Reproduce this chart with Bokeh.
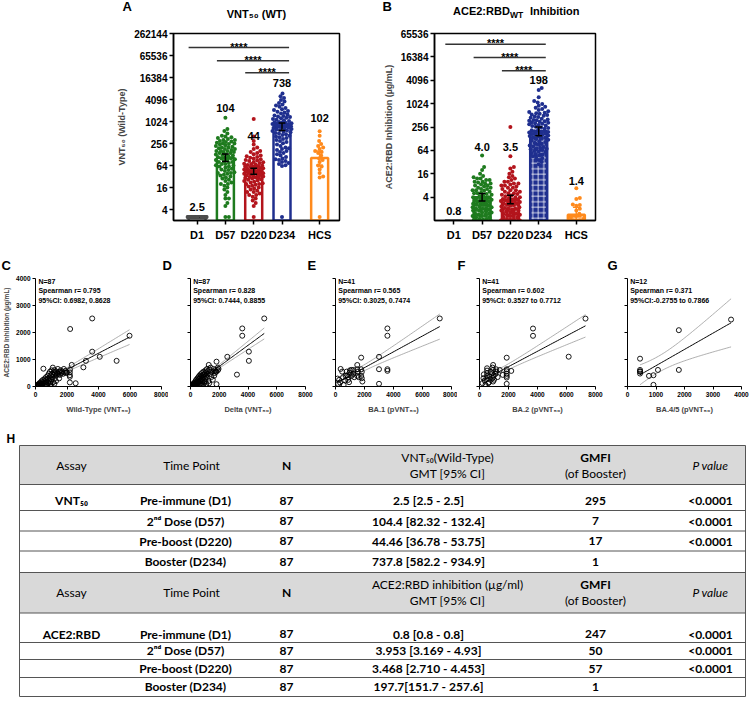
import math
import numpy as np
from bokeh.plotting import figure
from bokeh.models import Range1d, FixedTicker, Label, PrintfTickFormatter, CustomLabelingPolicy
from bokeh.layouts import column, row
from bokeh.embed import file_html
from bokeh.resources import INLINE
from bokeh.core.properties import value

FONT = "Liberation Sans, DejaVu Sans, sans-serif"
TFONT = "Lato, DejaVu Sans, sans-serif"

# ------------------------------------------------------------------ data
groups = ["D1", "D57", "D220", "D234", "HCS"]
group_pos = [1, 2, 3, 4, 5.33]
group_colors = ["#4d4d4d", "#1e7b1e", "#b3141c", "#1f2f8f", "#ff8a1c"]

# Panel A : VNT50 (WT)
vnt_gmt = [2.5, 104.4, 44.46, 737.8, 102]
vnt_gmt_text = ["2.5", "104", "44", "738", "102"]
vnt_ci_lo = [2.5, 82.32, 36.78, 582.2, 65]
vnt_ci_hi = [2.5, 132.4, 53.75, 934.9, 160]
vnt_D1 = [2.5] * 87  # all pre-immune values at the LOD (GMT 2.5 [2.5-2.5])
vnt_D57 = [1300, 640, 560, 480, 420, 400, 380, 360, 340, 320, 320, 300, 290, 280, 270, 260, 256, 250,
           240, 230, 220, 210, 200, 200, 190, 180, 180, 170, 160, 160, 160, 150, 150, 140, 140, 130,
           128, 125, 120, 115, 110, 105, 100, 100, 95, 90, 90, 85, 80, 80, 75, 70, 70, 65, 64, 60, 60,
           56, 52, 50, 48, 45, 42, 40, 40, 38, 36, 34, 32, 30, 28, 26, 24, 22, 20, 20, 18, 16, 14, 12,
           10, 8, 8, 6, 5, 2.5, 2.5]
vnt_D220 = [1200, 400, 300, 240, 200, 180, 160, 150, 140, 130, 120, 115, 110, 105, 100, 95, 90, 88, 85,
            80, 78, 75, 72, 70, 68, 66, 64, 62, 60, 60, 58, 56, 55, 54, 52, 50, 50, 48, 47, 46, 45, 44,
            43, 42, 41, 40, 40, 39, 38, 37, 36, 35, 34, 33, 32, 31, 30, 30, 29, 28, 27, 26, 25, 24, 23,
            22, 21, 20, 20, 19, 18, 17, 16, 15, 14, 13, 12, 12, 11, 10, 10, 9, 8, 7, 6, 5, 2.5]
vnt_D234 = [6000, 5000, 4500, 4000, 3600, 3300, 3000, 2800, 2600, 2400, 2200, 2100, 2000, 1900, 1800,
            1700, 1600, 1500, 1450, 1400, 1350, 1300, 1250, 1200, 1150, 1100, 1050, 1000, 980, 960,
            940, 920, 900, 880, 860, 840, 820, 800, 780, 760, 740, 720, 700, 680, 660, 640, 620, 600,
            580, 560, 540, 520, 500, 480, 460, 440, 420, 400, 380, 360, 340, 320, 300, 280, 260, 240,
            220, 200, 190, 180, 170, 160, 150, 140, 130, 120, 110, 100, 95, 90, 85, 80, 75, 70, 65, 62,
            2.5]
vnt_HCS = [550, 420, 300, 250, 220, 200, 180, 160, 150, 140, 120, 100, 90, 80, 64, 60, 50, 40, 32, 30, 2.5]

# Panel B : ACE2:RBD inhibition
ace_gmt = [0.8, 3.953, 3.468, 197.7, 1.4]
ace_gmt_text = ["0.8", "4.0", "3.5", "198", "1.4"]
ace_ci_lo = [0.8, 3.169, 2.71, 151.7, 1.0]
ace_ci_hi = [0.8, 4.93, 4.453, 257.6, 2.2]
ace_D1 = [0.8] * 87  # all pre-immune values at 0.8 (GMT 0.8 [0.8-0.8])
ace_D57 = [47, 24, 20, 16, 14, 13, 12, 12, 11, 11, 10, 10, 9.5, 9, 9, 8.5, 8, 8, 7.5, 7, 7, 6.5, 6.5, 6,
           6, 5.8, 5.5, 5.2, 5, 5, 4.8, 4.6, 4.4, 4.2, 4, 4, 3.8, 3.6, 3.5, 3.4, 3.3, 3.2, 3.1, 3, 3,
           2.9, 2.8, 2.7, 2.6, 2.5, 2.4, 2.3, 2.2, 2.2, 2.1, 2, 2, 1.9, 1.8, 1.8, 1.7, 1.6, 1.6, 1.5,
           1.5, 1.4, 1.4, 1.3, 1.3, 1.2, 1.2, 1.1, 1.1, 1.05, 1, 1, 0.95, 0.9, 0.9, 0.85, 0.8, 0.8,
           0.8, 0.8, 0.8, 0.8, 0.8]
ace_D220 = [256, 45, 24, 22, 18, 16, 14, 13, 12, 11, 10, 10, 9, 9, 8.5, 8, 8, 7.5, 7, 7, 6.5, 6, 6, 5.5,
            5.5, 5, 5, 4.8, 4.6, 4.4, 4.2, 4, 4, 3.8, 3.6, 3.5, 3.4, 3.3, 3.2, 3.1, 3, 3, 2.9, 2.8, 2.7,
            2.6, 2.5, 2.4, 2.3, 2.2, 2.1, 2, 2, 1.9, 1.8, 1.8, 1.7, 1.6, 1.6, 1.5, 1.5, 1.4, 1.4, 1.3,
            1.3, 1.2, 1.2, 1.1, 1.1, 1.05, 1, 1, 0.95, 0.9, 0.9, 0.85, 0.8, 0.8, 0.8, 0.8, 0.8, 0.8,
            0.8, 0.8, 0.8, 0.8, 0.8]
ace_D234 = [2600, 2300, 1500, 1200, 1100, 1000, 900, 850, 800, 750, 700, 650, 620, 600, 580, 560, 540,
            520, 500, 480, 460, 440, 420, 400, 390, 380, 370, 360, 350, 340, 330, 320, 310, 300, 290,
            280, 270, 260, 250, 240, 230, 220, 210, 200, 195, 190, 185, 180, 175, 170, 165, 160, 155,
            150, 145, 140, 135, 130, 125, 120, 115, 110, 105, 100, 95, 90, 85, 80, 78, 75, 72, 70, 68,
            65, 62, 60, 58, 55, 52, 50, 48, 45, 42, 40, 36, 32, 28]
ace_HCS = [6.8, 3.8, 3.6, 2.6, 2.5, 2.4, 2.0, 1.8, 1.5, 1.3, 1.2, 1.1, 1.0, 1.0, 1.0, 0.9, 0.9, 0.8, 0.8,
           0.8, 0.8]

# Panels C-G : correlations (x = neutralisation titre, y = ACE2:RBD inhibition)
C_x = [3600, 2200, 5970, 3600, 4080, 5150, 3200, 3040, 2300, 2190, 2550, 2180, 2180, 2180, 2180,
       50, 80, 100, 120, 150, 180, 200, 220, 250, 260, 300, 320, 350, 380, 400, 420, 450, 480, 500,
       520, 550, 580, 600, 620, 650, 680, 700, 720, 750, 780, 800, 820, 850, 870, 900, 920, 950, 980,
       1000, 1020, 1050, 1080, 1100, 1120, 1150, 1180, 1200, 1230, 1260, 1300, 1340, 1380, 1420,
       1460, 1500, 1550, 1600, 1650, 1700, 1750, 1800, 1850, 1900, 1950, 2000, 1000, 950, 700, 400,
       1200, 1500, 1300]
C_y = [2520, 2130, 1880, 1290, 1100, 950, 950, 710, 800, 620, 120, 150, 420, 520, 360,
       10, 20, 40, 10, 60, 30, 90, 50, 120, 20, 80, 150, 40, 200, 100, 60, 170, 250, 660, 120, 30,
       210, 300, 80, 150, 350, 250, 180, 60, 400, 290, 130, 480, 220, 330, 550, 90, 410, 270, 600,
       470, 350, 700, 160, 520, 420, 610, 300, 480, 560, 420, 500, 650, 470, 540, 430, 600, 500,
       550, 470, 650, 520, 580, 500, 520, 30, 150, 20, 10, 100, 300, 200]
D_x = [5130, 3600, 3600, 2560, 4060, 4060, 3230, 1810, 1810, 1270, 1900, 1900, 1950, 1800, 1700,
       20, 40, 60, 80, 100, 120, 150, 170, 200, 220, 250, 270, 300, 320, 350, 370, 400, 420, 450, 480,
       500, 520, 550, 570, 600, 620, 650, 680, 700, 720, 750, 780, 800, 820, 850, 870, 900, 920, 950,
       980, 1000, 1020, 1050, 1080, 1100, 1120, 1150, 1180, 1200, 1250, 1300, 1350, 1400, 1450, 1500,
       1550, 1600, 1650, 1700, 1750, 300, 500, 700, 900, 1100, 1300, 150, 250, 400, 600, 800, 1000]
D_y = [2520, 2150, 1880, 1100, 1290, 950, 440, 920, 86, 800, 700, 600, 650, 550, 500,
       10, 20, 5, 30, 50, 20, 80, 40, 100, 60, 130, 30, 150, 90, 200, 110, 250, 60, 180, 300, 120, 220,
       350, 150, 280, 400, 200, 330, 450, 100, 380, 250, 500, 180, 420, 300, 550, 350, 450, 150, 500,
       280, 600, 400, 520, 330, 650, 450, 560, 200, 620, 450, 700, 350, 550, 250, 650, 400, 600, 550,
       20, 30, 50, 80, 100, 120, 10, 15, 40, 70, 90, 200]
E_x = [7190, 3580, 3580, 3000, 1770, 3580, 3580, 3000, 3000, 354, 458, 520, 146, 250, 312, 562, 187,
       770, 812, 875, 875, 937, 979, 1104, 1104, 1229, 1229, 1500, 1500, 1541, 1500, 1604, 1771,
       1812, 1771, 1812, 1854, 1291, 666, 1000, 700]
E_y = [2520, 2150, 1880, 1100, 1070, 640, 580, 640, 100, 650, 552, 344, 294, 245, 147, 61, 98,
       552, 417, 344, 245, 160, 515, 613, 393, 466, 613, 797, 638, 540, 393, 344, 638, 540, 393,
       307, 184, 344, 220, 600, 400]
F_x = [7310, 3690, 3690, 6150, 1875, 2190, 1875, 1875, 1875, 1875, 1875, 1875, 937, 937, 896, 979,
       896, 937, 1146, 1146, 1104, 521, 521, 521, 521, 521, 604, 271, 354, 208, 416, 687, 771, 1396,
       1604, 771, 1000, 1250, 300, 650, 900]
F_y = [2515, 2147, 1877, 1104, 1067, 577, 638, 564, 466, 393, 331, 98, 797, 613, 491, 393, 307, 184,
       638, 552, 466, 675, 589, 491, 393, 270, 123, 307, 220, 123, 61, 368, 540, 613, 430, 245, 250,
       350, 450, 150, 700]
G_x = [3634, 1801, 1801, 440, 440, 440, 440, 754, 911, 911, 1068, 440]
G_y = [2479, 2086, 613, 1031, 613, 552, 479, 393, 417, 61, 613, 560]

scatter_letters = ["C", "D", "E", "F", "G"]
scatter_specs = [
    ("Wild-Type (VNT₅₀)", C_x, C_y, 8000, ["N=87", "Spearman r= 0.795", "95%CI: 0.6982, 0.8628"]),
    ("Delta (VNT₅₀)", D_x, D_y, 8000, ["N=87", "Spearman r= 0.828", "95%CI: 0.7444, 0.8855"]),
    ("BA.1 (pVNT₅₀)", E_x, E_y, 8000, ["N=41", "Spearman r= 0.565", "95%CI: 0.3025, 0.7474"]),
    ("BA.2 (pVNT₅₀)", F_x, F_y, 8000, ["N=41", "Spearman r= 0.602", "95%CI: 0.3527 to 0.7712"]),
    ("BA.4/5 (pVNT₅₀)", G_x, G_y, 4000, ["N=12", "Spearman r= 0.371", "95%CI:-0.2755 to 0.7866"]),
]

# Table H
tbl_headers = ["Assay", "Time Point", "N", "GMFI", "(of Booster)", "P value"]
tbl_gmt_head_vnt = ["VNT₅₀(Wild-Type)", "GMT [95% CI]"]
tbl_gmt_head_ace = ["ACE2:RBD inhibition (µg/ml)", "GMT [95% CI]"]
tbl_assay = ["VNT₅₀", "ACE2:RBD"]
tbl_timepoints = ["Pre-immune (D1)", "2ⁿᵈ Dose (D57)", "Pre-boost (D220)", "Booster (D234)"]
tbl_n = ["87", "87", "87", "87"]
tbl_vnt_gmt = ["2.5 [2.5 - 2.5]", "104.4 [82.32 - 132.4]", "44.46 [36.78 - 53.75]", "737.8 [582.2 - 934.9]"]
tbl_vnt_gmfi = ["295", "7", "17", "1"]
tbl_vnt_p = ["<0.0001", "<0.0001", "<0.0001"]
tbl_ace_gmt = ["0.8 [0.8 - 0.8]", "3.953 [3.169 - 4.93]", "3.468 [2.710 - 4.453]", "197.7[151.7 - 257.6]"]
tbl_ace_gmfi = ["247", "50", "57", "1"]
tbl_ace_p = ["<0.0001", "<0.0001", "<0.0001"]


# ------------------------------------------------------------------ helpers
def lab(p, x, y, text, size="11px", style="bold", align="center", baseline="middle", angle=0,
        font=FONT, color="black"):
    p.add_layout(Label(x=x, y=y, text=text, text_font=font, text_font_size=size,
                       text_font_style=style, text_align=align, text_baseline=baseline,
                       angle=angle, text_color=color))


def swarm_offsets(vals, ypx, d, maxw):
    order = sorted(range(len(vals)), key=lambda i: vals[i])
    cands = [0.0]
    k = 1
    while k * 0.5 <= maxw:
        cands += [k * 0.5, -k * 0.5]
        k += 1
    placed = []
    offs = [0.0] * len(vals)
    for i in order:
        y = ypx(vals[i])
        near = [(px, py) for (px, py) in placed if abs(py - y) < d]
        best, best_md = 0.0, -1.0
        for c in cands:
            md = min((math.hypot(c - px, y - py) for px, py in near), default=1e9)
            if md >= d:
                best = c
                break
            if md > best_md:
                best, best_md = c, md
        offs[i] = best
        placed.append((best, y))
    return offs


def t975(df):
    z = 1.959964
    return z + (z ** 3 + z) / (4 * df) + (5 * z ** 5 + 16 * z ** 3 + 3 * z) / (96 * df ** 2)


def style_axis(ax, size, lw, tick_out, standoff=3):
    ax.axis_line_width = lw
    ax.axis_line_color = "black"
    ax.major_tick_line_width = lw
    ax.major_tick_line_color = "black"
    ax.major_tick_out = tick_out
    ax.major_tick_in = 0
    ax.minor_tick_out = 0
    ax.minor_tick_in = 0
    ax.major_label_text_font = FONT
    ax.major_label_text_font_style = "bold"
    ax.major_label_text_font_size = size
    ax.major_label_text_color = "black"
    ax.major_label_standoff = standoff
    ax.axis_label_text_font = FONT
    ax.axis_label_text_font_style = "bold"


HIDE_LABELS = CustomLabelingPolicy(code="""
    for (const i of indices) { indices.unset(i) }
    return indices
""")


def strip(top, bottom):
    """A frame-only figure whose data coordinates equal page pixels (for panel letters/titles)."""
    s = figure(width=750, height=bottom - top, x_range=Range1d(0, 750), y_range=Range1d(bottom, top),
               output_backend="svg", toolbar_location=None, min_border=0,
               x_axis_location=None, y_axis_location=None)
    s.grid.visible = False
    s.outline_line_color = None
    return s


def stext(s, xs, ys, texts, size, align="left", font=FONT, style="bold"):
    s.text(x=xs, y=ys, text=texts, text_font=value(font), text_font_size=size,
           text_font_style=style, text_align=align, text_baseline="middle", text_color="black")


# ------------------------------------------------------------------ header strip (letters A, B + titles)
HDR_H = 22
hdr = strip(0, HDR_H)
stext(hdr, [122, 382], [6, 6], ["A", "B"], "13px")
stext(hdr, [256], [13], ["VNT₅₀ (WT)"], "11px", align="center")
stext(hdr, [452.5, 529.5], [10, 10], ["ACE2:RBD", "Inhibition"], "11px")
stext(hdr, [509.5], [14], ["WT"], "8.5px")

# ------------------------------------------------------------------ bar panels (page coords)
BAR_H, BAR_T, BAR_FH = 258 - HDR_H, 33 - HDR_H, 187


def bar_panel(fig_left, L, W, xr, y0, y1, yticks, all_vals, gmt, gmt_text, ci_lo, ci_hi,
              ylabel, label_py, sig_py, hatch):
    width = 375
    p = figure(width=width, height=BAR_H, x_range=Range1d(*xr), y_range=Range1d(y0, y1),
               y_axis_type="log", output_backend="svg", toolbar_location=None,
               min_border_left=L, min_border_right=width - L - W, min_border_top=BAR_T,
               min_border_bottom=BAR_H - BAR_T - BAR_FH)
    p.grid.visible = False
    p.outline_line_color = "black"
    p.outline_line_width = 1.5
    fb = 33 + BAR_FH
    upx = W / (xr[1] - xr[0])
    lpx = BAR_FH / math.log2(y1 / y0)

    def Y(py):
        return y0 * 2 ** ((fb - py) / lpx)

    for i, g in enumerate(groups):
        kw = dict(x=[group_pos[i]], top=[gmt[i]], bottom=y0 / 2, width=0.6,
                  line_color=group_colors[i], line_width=2.5)
        if hatch:
            p.vbar(fill_color=group_colors[i], hatch_pattern="cross", hatch_color="white",
                   hatch_scale=5.5, hatch_weight=0.8, **kw)
        else:
            p.vbar(fill_color="white", **kw)
    for i, vals in enumerate(all_vals):
        offs = swarm_offsets(vals, lambda v: math.log2(v) * lpx, 3.5, 9.5)
        xs = [group_pos[i] + o / upx for o in offs]
        p.scatter(xs, vals, size=4, marker="circle", fill_color=group_colors[i], line_color=None)
    for i in range(1, len(groups)):
        c = "black" if i < 4 else group_colors[i]
        xc = group_pos[i]
        p.segment([xc], [ci_lo[i]], [xc], [ci_hi[i]], line_color=c, line_width=1.5)
        p.segment([xc - 0.12, xc - 0.12], [ci_lo[i], ci_hi[i]], [xc + 0.12, xc + 0.12],
                  [ci_lo[i], ci_hi[i]], line_color=c, line_width=1.5)
    for i in range(len(groups)):
        lab(p, group_pos[i], Y(label_py[i]), gmt_text[i], size="11px")
    for k, start in enumerate([0, 1, 2]):
        x0 = group_pos[start] - 0.3
        x1 = group_pos[3] + 0.25
        p.segment([x0], [Y(sig_py[k])], [x1], [Y(sig_py[k])], line_color="#333333", line_width=1.5)
        lab(p, (x0 + x1) / 2, Y(sig_py[k] - 1), "****", size="11px", baseline="alphabetic")
    p.yaxis.ticker = FixedTicker(ticks=yticks)
    p.yaxis.formatter = PrintfTickFormatter(format="%d")
    p.xaxis.ticker = FixedTicker(ticks=group_pos)
    p.xaxis.major_label_overrides = {pos: g for pos, g in zip(group_pos, groups)}
    style_axis(p.yaxis[0], "10px", 1.5, 4, 2)
    style_axis(p.xaxis[0], "11px", 1.5, 4, 4)
    p.yaxis.axis_label = ylabel
    p.yaxis.axis_label_text_font_size = "9px"
    p.yaxis.axis_label_standoff = 4
    return p


yt_A = [4, 16, 64, 256, 1024, 4096, 16384, 65536, 262144]
yt_B = [4, 16, 64, 256, 1024, 4096, 16384, 65536]

pA = bar_panel(
    0, 173, 166, (0.166, 0.166 + 166 / 28.3), 2, 262144, yt_A,
    [vnt_D1, vnt_D57, vnt_D220, vnt_D234, vnt_HCS], vnt_gmt, vnt_gmt_text, vnt_ci_lo, vnt_ci_hi,
    "VNT₅₀ (Wild-Type)", [206, 107.3, 135, 82.7, 117.7], [47, 60.3, 72.3], False)

pB = bar_panel(
    375, 59, 161, (0.318, 0.318 + 161 / 28.3), 1, 65536, yt_B,
    [ace_D1, ace_D57, ace_D220, ace_D234, ace_HCS], ace_gmt, ace_gmt_text, ace_ci_lo, ace_ci_hi,
    "ACE2:RBD Inhibition (µg/mL)", [210, 146, 146, 79, 180], [43.7, 57, 70.3], True)

# ------------------------------------------------------------------ strip with letters C-G
SC_STRIP_TOP, SC_STRIP_BOT = 258, 272
sstrip = strip(SC_STRIP_TOP, SC_STRIP_BOT)
stext(sstrip, [1, 162, 307, 457, 607], [264.5] * 5, scatter_letters, "13px")

# ------------------------------------------------------------------ scatter panels
SC_TOP, SC_FRAME_TOP, SC_FH, SC_BOTTOM = SC_STRIP_BOT, 278, 108, 425
SC_H = SC_BOTTOM - SC_TOP
SC_T = SC_FRAME_TOP - SC_TOP
scatter_geom = [  # fig_left, fig_width, border_left, frame_width
    (0, 168, 33, 128),
    (168, 145, 9, 128),
    (313, 144, 10, 128),
    (457, 148, 10, 128),
    (605, 145, 9, 127),
]
scatter_figs = []
for k, (xlabel, xs, ys, xmax, notes) in enumerate(scatter_specs):
    fx, fw, L, W = scatter_geom[k]
    p = figure(width=fw, height=SC_H, x_range=Range1d(0, xmax), y_range=Range1d(0, 4000),
               output_backend="svg", toolbar_location=None, min_border_left=L,
               min_border_right=fw - L - W, min_border_top=SC_T,
               min_border_bottom=SC_H - SC_T - SC_FH)
    p.grid.visible = False
    p.outline_line_color = None
    fl, fb = fx + L, SC_FRAME_TOP + SC_FH

    def X(px, fl=fl, W=W, xmax=xmax):
        return (px - fl) / W * xmax

    def Y(py, fb=fb):
        return (fb - py) / SC_FH * 4000

    x = np.array(xs, float)
    y = np.array(ys, float)
    n = len(x)
    slope, icpt = np.polyfit(x, y, 1)
    xl = np.linspace(x.min(), x.max(), 60)
    yl = icpt + slope * xl
    s = math.sqrt(np.sum((y - (icpt + slope * x)) ** 2) / (n - 2))
    se = s * np.sqrt(1.0 / n + (xl - x.mean()) ** 2 / np.sum((x - x.mean()) ** 2))
    tq = t975(n - 2)
    p.line(xl, yl + tq * se, line_color="#9a9a9a", line_width=0.8)
    p.line(xl, yl - tq * se, line_color="#9a9a9a", line_width=0.8)
    p.line(xl, yl, line_color="black", line_width=1)
    p.scatter(xs, ys, size=5, marker="circle", fill_color=None, line_color="black", line_width=0.9)

    step = xmax / 4
    p.xaxis.ticker = FixedTicker(ticks=[0, step, 2 * step, 3 * step, 4 * step])
    p.yaxis.ticker = FixedTicker(ticks=[0, 1000, 2000, 3000, 4000])
    style_axis(p.xaxis[0], "6.5px", 1, 3, 2)
    style_axis(p.yaxis[0], "6.5px", 1, 3, 2)
    if k > 0:
        p.yaxis.major_label_policy = HIDE_LABELS
    else:
        p.yaxis.axis_label = "ACE2:RBD Inhibition (µg/mL)"
        p.yaxis.axis_label_text_font_size = "6.5px"
        p.yaxis.axis_label_standoff = 3
    p.xaxis.axis_label = xlabel
    p.xaxis.axis_label_text_font_size = "7.5px"
    p.xaxis.axis_label_standoff = 5
    for j, t in enumerate(notes):
        lab(p, X(fl + 3), Y([280.5, 290, 299.5][j]), t, size="7px", align="left")
    scatter_figs.append(p)


# ------------------------------------------------------------------ table H
pT = figure(width=750, height=702 - 425, x_range=Range1d(0, 750), y_range=Range1d(702, 425),
            output_backend="svg", toolbar_location=None, min_border=0,
            x_axis_location=None, y_axis_location=None)
pT.grid.visible = False
pT.outline_line_color = None
TL, TR = 19, 745
hdr_bands = [(445, 484), (572, 612.5)]
body_centers = [[500, 520.5, 540.5, 561], [633.5, 650, 668, 686]]
hlines = [445, 484, 510, 530.5, 550.5, 572, 612.5, 642, 659, 677, 696]
pT.quad(left=TL, right=TR, top=[b[0] for b in hdr_bands], bottom=[b[1] for b in hdr_bands],
        fill_color="#d9d9d9", line_color=None)
pT.segment(x0=TL, x1=TR, y0=hlines, y1=hlines, line_color="#555555", line_width=1)
pT.segment(x0=[TL, TR], x1=[TL, TR], y0=445, y1=696, line_color="#555555", line_width=1)

cx = dict(assay=71, tp=185, tph=191, n=286, gmt=428, gmth=447, gmfi=595, p=710)
TS = "12px"


def ttext(xs, ys, texts, style="bold", align="center", size=TS, font=TFONT):
    pT.text(x=xs, y=ys, text=texts, text_font=value(font), text_font_size=size,
            text_font_style=style, text_align=align, text_baseline="middle", text_color="black")


ttext([6], [438], ["H"], size="12px", align="left", font=FONT)
for bi, (top, bot) in enumerate(hdr_bands):
    mid = (top + bot) / 2
    l1, l2 = mid - 8, mid + 8
    ttext([cx["assay"], cx["tph"]], [mid, mid], tbl_headers[0:2], style="normal")
    ttext([cx["n"], cx["gmfi"]], [mid, l1], [tbl_headers[2], tbl_headers[3]], style="bold")
    ttext([cx["gmfi"]], [l2], [tbl_headers[4]], style="normal")
    ttext([cx["p"]], [mid], [tbl_headers[5]], style="italic")
    gh = tbl_gmt_head_vnt if bi == 0 else tbl_gmt_head_ace
    ttext([cx["gmth"], cx["gmth"]], [l1, l2], gh, style="normal")

for bi, centers in enumerate(body_centers):
    gmt = tbl_vnt_gmt if bi == 0 else tbl_ace_gmt
    gmfi = tbl_vnt_gmfi if bi == 0 else tbl_ace_gmfi
    pv = tbl_vnt_p if bi == 0 else tbl_ace_p
    ttext([cx["assay"]], centers[:1], [tbl_assay[bi]])
    ttext([cx["tp"]] * 4, centers, tbl_timepoints)
    ttext([cx["n"]] * 4, centers, tbl_n)
    ttext([cx["gmt"]] * 4, centers, gmt)
    ttext([cx["gmfi"]] * 4, centers, gmfi)
    ttext([cx["p"]] * len(pv), centers[:len(pv)], pv)

layout = column(hdr, row(pA, pB), sstrip, row(*scatter_figs), pT)
open("out.html", "w").write(file_html(layout, INLINE))
